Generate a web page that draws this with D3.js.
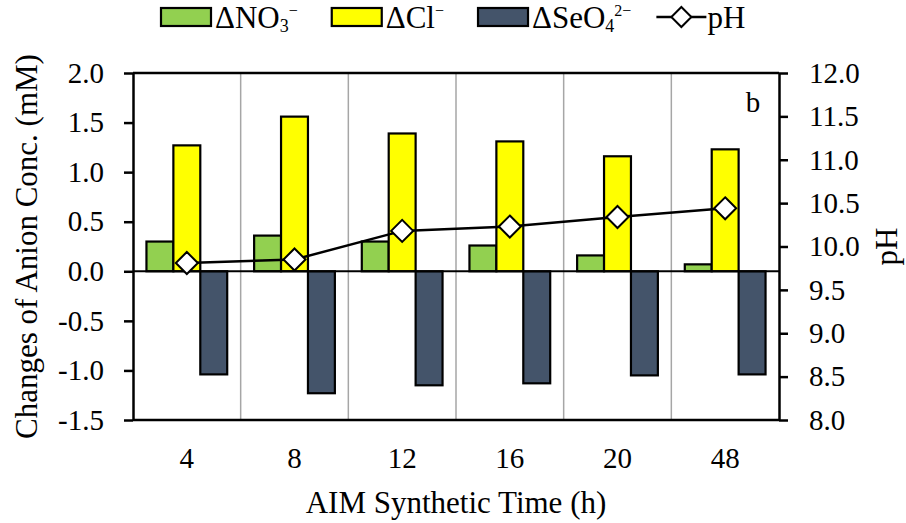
<!DOCTYPE html>
<html>
<head>
<meta charset="utf-8">
<script src="https://cdn.jsdelivr.net/npm/d3@7"></script>
<style>
  body { margin: 0; background: #fff; }
  text { font-family: "Liberation Serif", "Times New Roman", serif; fill: #000; }
</style>
</head>
<body>
<div id="container"></div>
<script>
const categories = ["4", "8", "12", "16", "20", "48"];
const no3 = [0.30, 0.36, 0.30, 0.26, 0.16, 0.07];
const cl = [1.27, 1.56, 1.39, 1.31, 1.16, 1.23];
const seo4 = [-1.04, -1.23, -1.15, -1.13, -1.05, -1.04];
const pH = [9.81, 9.85, 10.18, 10.23, 10.34, 10.44];
const leftTicks = [-1.5, -1.0, -0.5, 0.0, 0.5, 1.0, 1.5, 2.0];
const rightTicks = [8.0, 8.5, 9.0, 9.5, 10.0, 10.5, 11.0, 11.5, 12.0];
const seriesNames = ["no3", "cl", "seo4"];
const seriesColors = ["#92d050", "#ffff00", "#44546a"];

const width = 906;
const height = 523;
const margin = ({ top: 73, right: 127, bottom: 103, left: 133 });

const series = [no3, cl, seo4];

let svg = d3.select("#container").append("svg")
    .attr("width", width)
    .attr("height", height);

let x0 = d3.scaleBand()
    .domain(categories)
    .range([margin.left, width - margin.right]);

let x1 = d3.scaleBand()
    .domain(seriesNames)
    .range([0, x0.bandwidth()])
    .paddingOuter(0.5);

let y = d3.scaleLinear()
    .domain([-1.5, 2.0])
    .range([height - margin.bottom, margin.top]);

let y2 = d3.scaleLinear()
    .domain([8.0, 12.0])
    .range([height - margin.bottom, margin.top]);

const fmt = d => d.toFixed(1);

// vertical separators between categories
svg.append("g")
    .attr("stroke", "#a6a6a6")
    .attr("stroke-width", 1.5)
    .selectAll("line")
    .data(categories.slice(1))
    .join("line")
    .attr("x1", d => x0(d))
    .attr("x2", d => x0(d))
    .attr("y1", margin.top)
    .attr("y2", height - margin.bottom);

// bars
series.forEach((vals, s) => {
    svg.append("g")
        .attr("fill", seriesColors[s])
        .attr("stroke", "#000")
        .attr("stroke-width", 2.2)
        .selectAll("rect")
        .data(vals)
        .join("rect")
        .attr("x", (d, i) => x0(categories[i]) + x1(seriesNames[s]))
        .attr("width", x1.bandwidth())
        .attr("y", d => y(Math.max(0, d)))
        .attr("height", d => Math.abs(y(d) - y(0)));
});

// zero line
svg.append("line")
    .attr("x1", margin.left)
    .attr("x2", width - margin.right)
    .attr("y1", y(0))
    .attr("y2", y(0))
    .attr("stroke", "#000")
    .attr("stroke-width", 2);

// frame top / bottom
svg.append("g")
    .attr("stroke", "#000")
    .attr("stroke-width", 2.5)
    .selectAll("line")
    .data([margin.top, height - margin.bottom])
    .join("line")
    .attr("x1", margin.left)
    .attr("x2", width - margin.right)
    .attr("y1", d => d)
    .attr("y2", d => d);

// left axis
let leftAxis = svg.append("g")
    .attr("transform", `translate(${margin.left},0)`)
    .call(d3.axisLeft(y).tickValues(leftTicks).tickFormat(fmt).tickSize(9).tickSizeOuter(0).tickPadding(20));

// right axis
let rightAxis = svg.append("g")
    .attr("transform", `translate(${width - margin.right},0)`)
    .call(d3.axisRight(y2).tickValues(rightTicks).tickFormat(fmt).tickSize(9).tickSizeOuter(0).tickPadding(21));

[leftAxis, rightAxis].forEach(a => {
    a.select(".domain").attr("stroke", "#000").attr("stroke-width", 2.5);
    a.selectAll(".tick line").attr("stroke", "#000").attr("stroke-width", 2.5);
    a.selectAll(".tick text")
        .attr("font-family", "Liberation Serif")
        .attr("font-size", 29)
        .attr("fill", "#000");
});
rightAxis.selectAll(".tick text").attr("text-anchor", "start");

// category labels
svg.append("g")
    .selectAll("text")
    .data(categories)
    .join("text")
    .attr("x", d => x0(d) + x0.bandwidth() / 2)
    .attr("y", height - margin.bottom + 48)
    .attr("text-anchor", "middle")
    .attr("font-size", 29)
    .text(d => d);

// pH line
let cx = (d, i) => x0(categories[i]) + x0.bandwidth() / 2;
svg.append("path")
    .attr("fill", "none")
    .attr("stroke", "#000")
    .attr("stroke-width", 2.5)
    .attr("d", d3.line().x(cx).y(d => y2(d))(pH));

svg.append("g")
    .selectAll("path")
    .data(pH)
    .join("path")
    .attr("transform", (d, i) => `translate(${cx(d, i)},${y2(d)})`)
    .attr("d", "M0,-11L11,0L0,11L-11,0Z")
    .attr("fill", "#fff")
    .attr("stroke", "#000")
    .attr("stroke-width", 2);

// panel letter
svg.append("text")
    .attr("x", width - margin.right - 26)
    .attr("y", margin.top + 39)
    .attr("text-anchor", "middle")
    .attr("font-size", 29)
    .text("b");

// axis titles
svg.append("text")
    .attr("transform", `translate(${(margin.left + width - margin.right) / 2},${height - 10})`)
    .attr("text-anchor", "middle")
    .attr("font-size", 31)
    .text("AIM Synthetic Time (h)");

svg.append("text")
    .attr("transform", `translate(37,${(margin.top + height - margin.bottom) / 2}) rotate(-90)`)
    .attr("text-anchor", "middle")
    .attr("font-size", 31)
    .text("Changes of Anion Conc. (mM)");

svg.append("text")
    .attr("transform", `translate(897,${(margin.top + height - margin.bottom) / 2}) rotate(-90)`)
    .attr("text-anchor", "middle")
    .attr("font-size", 31)
    .text("pH");

// legend
const legendItems = [
    { parts: [["ΔNO", 0], ["3", 1], ["−", -1]], color: seriesColors[0], gap: 33 },
    { parts: [["ΔCl", 0], ["−", -1]], color: seriesColors[1], gap: 33 },
    { parts: [["ΔSeO", 0], ["4", 1], ["2−", -1]], color: seriesColors[2], gap: 25 },
    { parts: [["pH", 0]], color: null, gap: 0 }
];

let legend = svg.append("g");
let lx = 160;
legendItems.forEach(item => {
    let g = legend.append("g").attr("transform", `translate(${lx},0)`);
    let tx = 55;
    if (item.color) {
        g.append("rect")
            .attr("x", 1).attr("y", 8)
            .attr("width", 50).attr("height", 18)
            .attr("fill", item.color)
            .attr("stroke", "#000")
            .attr("stroke-width", 2.2);
    } else {
        tx = 51;
        g.append("line")
            .attr("x1", 0).attr("x2", 50)
            .attr("y1", 17).attr("y2", 17)
            .attr("stroke", "#000").attr("stroke-width", 2.5);
        g.append("path")
            .attr("transform", "translate(25,17)")
            .attr("d", "M0,-10L10,0L0,10L-10,0Z")
            .attr("fill", "#fff")
            .attr("stroke", "#000")
            .attr("stroke-width", 2);
    }
    let t = g.append("text")
        .attr("x", tx)
        .attr("y", 28)
        .attr("font-size", 31);
    let hasSub = item.parts.some(p => p[1] === 1);
    item.parts.forEach(([s, pos]) => {
        let ts = t.append("tspan").text(s);
        if (pos === 1) ts.attr("font-size", 18).attr("dy", 4);
        if (pos === -1) ts.attr("font-size", 16).attr("dy", hasSub ? -16 : -12);
    });
    lx += tx + t.node().getComputedTextLength() + item.gap;
});
</script>
</body>
</html>
